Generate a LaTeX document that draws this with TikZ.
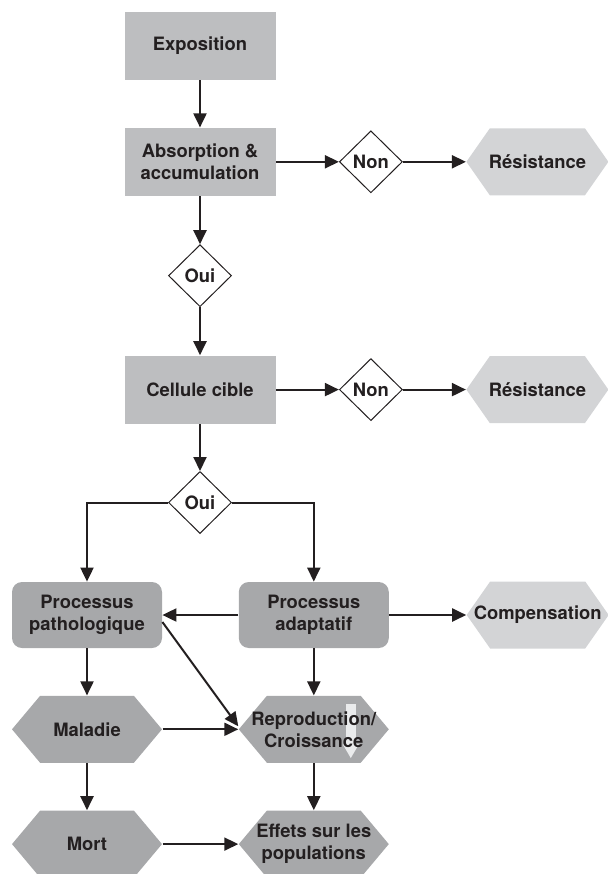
\documentclass[tikz,border=0pt]{standalone}
\usepackage{fontspec}
\setmainfont{TeX Gyre Heros}
\usepackage{tikz}
\usetikzlibrary{shapes.geometric, shapes.symbols, arrows.meta, positioning}
\definecolor{stagebg}{RGB}{189,190,192}
\definecolor{procbg}{RGB}{167,168,170}
\definecolor{outbg}{RGB}{211,212,214}
\definecolor{inkline}{RGB}{35,31,32}
\definecolor{dropfill}{RGB}{234,235,236}
\tikzset{
  stagebox/.style={rectangle, fill=stagebg, minimum width=75.5pt,
                   minimum height=34pt, text=inkline, align=center, inner sep=2pt,
                   font=\fontsize{9.2}{11}\selectfont\bfseries},
  procbox/.style={stagebox, rounded corners=5pt, fill=procbg,
                  minimum width=75pt, minimum height=33pt},
  hexbox/.style={signal, signal to=east and west, signal pointer angle=#1,
                 minimum height=33.5pt, text=inkline, align=center,
                 inner xsep=-20pt, inner ysep=1pt,
                 font=\fontsize{9.2}{11}\selectfont\bfseries},
  outbox/.style={hexbox=110, fill=outbg, minimum width=71pt},
  effbox/.style={hexbox=100, fill=procbg, minimum width=75pt},
  choice/.style={diamond, draw=inkline, line width=0.5pt, fill=white,
                 minimum width=31.5pt, minimum height=31pt, inner sep=0pt,
                 text=inkline, font=\fontsize{9.2}{11}\selectfont\bfseries},
  arrowstyle/.style={-{Triangle[length=7pt, width=6.5pt]}, line width=1pt, color=inkline},
  dropstyle/.style={-{Triangle[length=7pt, width=7.5pt]}, line width=5pt, color=dropfill},
}

\begin{document}
\begin{tikzpicture}
  \useasboundingbox (0,0) rectangle (303.5pt,-437pt);
  \node[stagebox] (expo) at (100pt,-23pt) {Exposition};
  \node[stagebox, below=23.5pt of expo] (absorb) {Absorption \&\\accumulation};
  \node[choice, right=31.5pt of absorb] (non1) {Non};
  \node[outbox, right=31.5pt of non1] (resist1) {Résistance};
  \node[choice, below=24pt of absorb] (oui1) {Oui};
  \node[stagebox, below=24pt of oui1] (target) {Cellule cible};
  \node[choice, right=31.5pt of target] (non2) {Non};
  \node[outbox, right=31.5pt of non2] (resist2) {Résistance};
  \node[choice, below=23.5pt of target] (oui2) {Oui};
  \node[procbox] (patho) at (43.5pt,-307.5pt) {Processus\\pathologique};
  \node[procbox, right=38pt of patho] (adapt) {Processus\\adaptatif};
  \node[outbox, right=38.5pt of adapt] (compens) {Compensation};
  \node[effbox, below=23.5pt of patho] (disease) {Maladie};
  \node[effbox, below=23.5pt of adapt,
        path picture={\draw[dropstyle] ([xshift=18.5pt,yshift=12.5pt]path picture bounding box.center)
                      -- ++(0,-27pt);}] (repro) {Reproduction/\\Croissance};
  \node[effbox, below=23.5pt of disease] (death) {Mort};
  \node[effbox, below=23.5pt of repro] (popul) {Effets sur les\\populations};

  \draw[arrowstyle] (expo.south) -- (absorb.north);
  \draw[arrowstyle] (absorb.east) -- (non1.west);
  \draw[arrowstyle] (non1.east) -- (resist1.west);
  \draw[arrowstyle] (absorb.south) -- (oui1.north);
  \draw[arrowstyle] (oui1.south) -- (target.north);
  \draw[arrowstyle] (target.east) -- (non2.west);
  \draw[arrowstyle] (non2.east) -- (resist2.west);
  \draw[arrowstyle] (target.south) -- (oui2.north);
  \draw[arrowstyle] (oui2.west) -| (patho.north);
  \draw[arrowstyle] (oui2.east) -| (adapt.north);
  \draw[arrowstyle] (adapt.west) -- (patho.east);
  \draw[arrowstyle] (adapt.east) -- (compens.west);
  \draw[arrowstyle] ([yshift=-3.5pt]patho.east) -- ([yshift=1.5pt]repro.west);
  \draw[arrowstyle] (patho.south) -- (disease.north);
  \draw[arrowstyle] (adapt.south) -- (repro.north);
  \draw[arrowstyle] (disease.east) -- (repro.west);
  \draw[arrowstyle] (disease.south) -- (death.north);
  \draw[arrowstyle] (repro.south) -- (popul.north);
  \draw[arrowstyle] (death.east) -- (popul.west);
\end{tikzpicture}
\end{document}
